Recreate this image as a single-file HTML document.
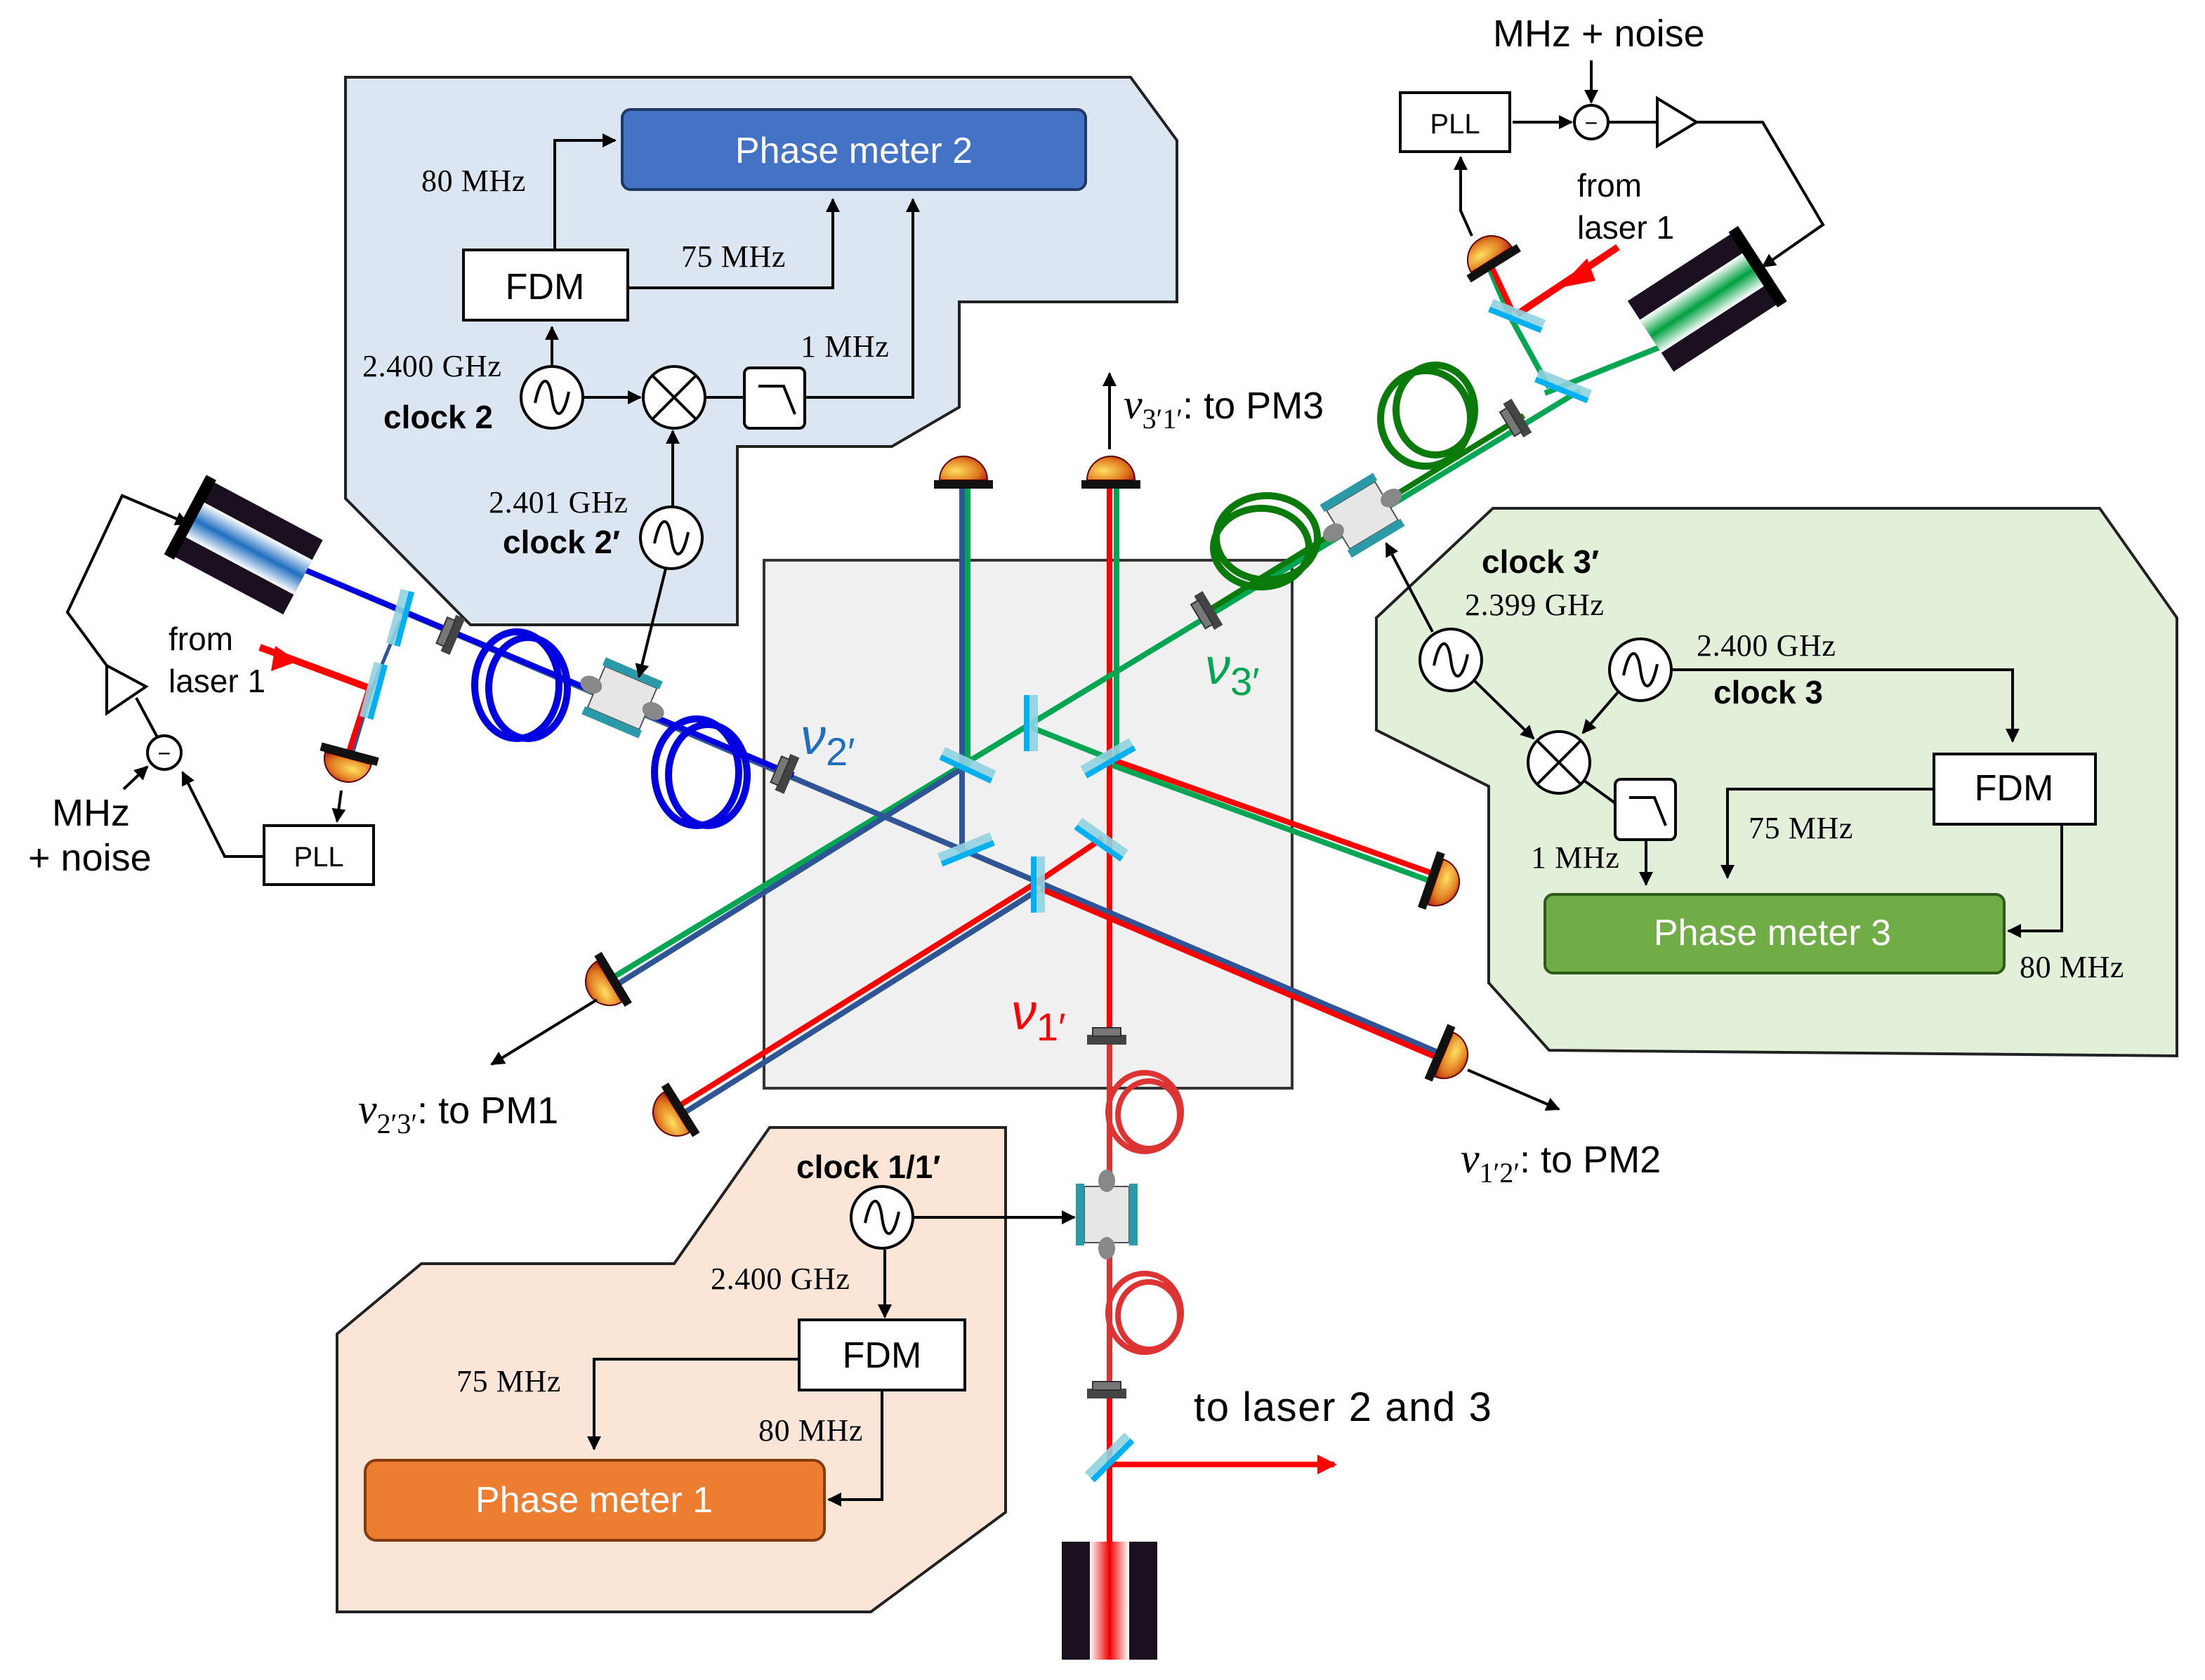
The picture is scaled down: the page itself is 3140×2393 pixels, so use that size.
<!DOCTYPE html>
<html><head><meta charset="utf-8"><style>
html,body{margin:0;padding:0;background:#fff;}
svg{display:block;}
text{font-family:"Liberation Sans",sans-serif;}
.s{font-family:"Liberation Serif",serif;}
</style></head><body>
<svg width="3140" height="2393" viewBox="0 0 1570 1196.5" xmlns="http://www.w3.org/2000/svg">
<defs>
<radialGradient id="dg" cx="0.35" cy="0.6" r="0.8"><stop offset="0" stop-color="#ffe060"/><stop offset="0.6" stop-color="#e07a20"/><stop offset="1" stop-color="#a01010"/></radialGradient>
<linearGradient id="bg1" x1="0" y1="0" x2="0" y2="1"><stop offset="0" stop-color="#fff"/><stop offset="0.5" stop-color="#1e6fc0"/><stop offset="1" stop-color="#fff"/></linearGradient>
<linearGradient id="gg1" x1="0" y1="0" x2="0" y2="1"><stop offset="0" stop-color="#fff"/><stop offset="0.5" stop-color="#00a040"/><stop offset="1" stop-color="#fff"/></linearGradient>
<linearGradient id="rg1" x1="0" y1="0" x2="1" y2="0"><stop offset="0" stop-color="#fff"/><stop offset="0.5" stop-color="#e00"/><stop offset="1" stop-color="#fff"/></linearGradient>
<g id="det"><path d="M-17,0 A17,17 0 0 1 17,0 Z" fill="url(#dg)" stroke="#600" stroke-width="1"/><rect x="-21" y="0" width="42" height="6" fill="#111"/></g>
<g id="bs"><rect x="-20" y="-5" width="40" height="10" fill="#8fd3e0" opacity="0.9"/><rect x="-20" y="1" width="40" height="4" fill="#00b0f0"/></g>
<g id="con"><rect x="-14" y="-3" width="28" height="7" fill="#444"/><rect x="-10" y="-8" width="20" height="6" fill="#777" stroke="#333" stroke-width="1"/></g>
<g id="eom"><rect x="-20" y="-16" width="40" height="32" fill="#e6e6e6" stroke="#555"/><rect x="-22" y="-22" width="44" height="6" fill="#2a9aa8"/><rect x="-22" y="16" width="44" height="6" fill="#2a9aa8"/><ellipse cx="-24" cy="0" rx="8" ry="6" fill="#888"/><ellipse cx="24" cy="0" rx="8" ry="6" fill="#888"/></g>
<marker id="ar" markerWidth="10" markerHeight="10" refX="9" refY="5" orient="auto" markerUnits="userSpaceOnUse"><path d="M0,0 L10,5 L0,10 Z" fill="#000"/></marker>
<marker id="arr" markerWidth="14" markerHeight="14" refX="12" refY="7" orient="auto" markerUnits="userSpaceOnUse"><path d="M0,0 L14,7 L0,14 Z" fill="#f00"/></marker>
</defs>

<!-- panels -->
<polygon points="246,55 805,55 838,100 838,215 683,215 683,290 635,318 525,318 525,445 335,445 246,355" fill="#dce6f2" stroke="#222" stroke-width="2"/>
<polygon points="980,440 1063,362 1495,362 1550,440 1550,752 1103,748 1060,700 1060,560 980,520" fill="#e2efd9" stroke="#222" stroke-width="2"/>
<polygon points="548,803 716,803 716,1077 620,1148 240,1148 240,950 300,900 480,900" fill="#fbe5d6" stroke="#222" stroke-width="2"/>
<rect x="544" y="399" width="376" height="376" fill="#f0f0f0" stroke="#333" stroke-width="2"/>

<!-- beams -->
<g stroke-width="4" fill="none">
<line x1="790" y1="345" x2="790" y2="1180" stroke="#f00"/>
<line x1="795" y1="345" x2="795" y2="542" stroke="#00a651"/>
<line x1="689" y1="345" x2="689" y2="546" stroke="#00a651"/>
<line x1="685" y1="345" x2="685" y2="608" stroke="#2f5597"/>
<line x1="1125" y1="278" x2="430" y2="700" stroke="#00a651"/>
<line x1="684" y1="548" x2="430" y2="707" stroke="#2f5597"/>
<line x1="215" y1="405" x2="1025" y2="750" stroke="#2f5597"/>
<line x1="741" y1="633" x2="1025" y2="754" stroke="#f00"/>
<line x1="739" y1="628" x2="478" y2="791" stroke="#f00"/>
<line x1="739" y1="634" x2="480" y2="797" stroke="#2f5597"/>
<line x1="785" y1="597" x2="736" y2="630" stroke="#f00"/>
<line x1="734" y1="518" x2="792" y2="541" stroke="#00a651"/>
<line x1="792" y1="541" x2="1020" y2="622" stroke="#f00"/>
<line x1="792" y1="545" x2="1020" y2="628" stroke="#00a651"/>
<line x1="790" y1="1043" x2="950" y2="1043" stroke="#f00" marker-end="url(#arr)"/>
<line x1="1200" y1="240" x2="1100" y2="280" stroke="#00a651"/>
<line x1="1103" y1="276" x2="1075" y2="225" stroke="#00a651"/>
<line x1="1075" y1="225" x2="1060" y2="190" stroke="#00a651"/>
<line x1="1077" y1="222" x2="1062" y2="190" stroke="#f00"/>
<line x1="1080" y1="224" x2="1152" y2="176" stroke="#f00" stroke-width="5"/>
<line x1="285" y1="442" x2="265" y2="490" stroke="#2f5597" stroke-width="2.5"/>
<line x1="265" y1="490" x2="250" y2="540" stroke="#2f5597" stroke-width="2.5"/>
<line x1="263" y1="490" x2="247" y2="540" stroke="#f00"/>
<line x1="263" y1="490" x2="185" y2="461" stroke="#f00" stroke-width="5"/>
</g>
<path d="M1110,205 L1130,184 L1136,200 Z" fill="#f00"/>
<path d="M212,471 L196,460 L193,478 Z" fill="#f00"/>

<!-- fibers -->
<g fill="none">
<line x1="215" y1="405" x2="565" y2="552" stroke="#0000e0" stroke-width="4"/>
<line x1="860" y1="435" x2="1085" y2="296" stroke="#0a7a0a" stroke-width="4"/>
<line x1="790" y1="740" x2="790" y2="995" stroke="#d33" stroke-width="4"/>
<g stroke="#0000e0" stroke-width="5"><ellipse cx="368" cy="488" rx="30" ry="38"/><ellipse cx="376" cy="490" rx="28" ry="36"/><ellipse cx="496" cy="550" rx="30" ry="38"/><ellipse cx="504" cy="552" rx="28" ry="36"/></g>
<g stroke="#0a7a0a" stroke-width="5"><ellipse cx="902" cy="383" rx="36" ry="30"/><ellipse cx="898" cy="390" rx="34" ry="28"/><ellipse cx="1015" cy="298" rx="32" ry="34"/><ellipse cx="1022" cy="292" rx="28" ry="32"/></g>
<g stroke="#d33" stroke-width="4"><ellipse cx="815" cy="792" rx="26" ry="28"/><ellipse cx="818" cy="794" rx="22" ry="24"/><ellipse cx="815" cy="935" rx="26" ry="28"/><ellipse cx="818" cy="937" rx="22" ry="24"/></g>
</g>
<use href="#eom" transform="translate(443,497) rotate(23)"/>
<use href="#eom" transform="translate(970,367) rotate(-31)"/>
<use href="#eom" transform="translate(788,865) rotate(90)"/>
<use href="#con" transform="translate(322,452) rotate(-67)"/>
<use href="#con" transform="translate(560,551) rotate(-67)"/>
<use href="#con" transform="translate(860,435) rotate(-121)"/>
<use href="#con" transform="translate(1080,298) rotate(-121)"/>
<use href="#con" transform="translate(788,740)"/>
<use href="#con" transform="translate(788,992)"/>

<!-- beamsplitters -->
<use href="#bs" transform="translate(734,515) rotate(90)"/>
<use href="#bs" transform="translate(689,545) rotate(25)"/>
<use href="#bs" transform="translate(789,540) rotate(-30)"/>
<use href="#bs" transform="translate(688,605) rotate(-22)"/>
<use href="#bs" transform="translate(784,598) rotate(35)"/>
<use href="#bs" transform="translate(739,630) rotate(90)"/>
<use href="#bs" transform="translate(790,1038) rotate(-45)"/>
<use href="#bs" transform="translate(1080,225) rotate(22)"/>
<use href="#bs" transform="translate(1113,275) rotate(22)"/>
<use href="#bs" transform="translate(285,440) rotate(-75)"/>
<use href="#bs" transform="translate(266,492) rotate(-75)"/>

<!-- detectors -->
<use href="#det" transform="translate(686,342)"/>
<use href="#det" transform="translate(791,342)"/>
<use href="#det" transform="translate(1022,628) rotate(109)"/>
<use href="#det" transform="translate(1028,751) rotate(113)"/>
<use href="#det" transform="translate(434,699) rotate(-121)"/>
<use href="#det" transform="translate(482,792) rotate(-122)"/>
<use href="#det" transform="translate(248,540) rotate(195)"/>
<use href="#det" transform="translate(1062,185) rotate(-32)"/>

<!-- lasers -->
<g transform="translate(790,1140)"><rect x="-34" y="-42" width="68" height="84" fill="#1a1020"/><rect x="-14" y="-42" width="28" height="84" fill="url(#rg1)"/></g>
<g transform="translate(176,390) rotate(28)"><rect x="-45" y="-30" width="90" height="60" fill="#1a1020"/><rect x="-45" y="-14" width="90" height="28" fill="url(#bg1)"/><rect x="-50" y="-32" width="8" height="64" fill="#000"/></g>
<g transform="translate(1213,215) rotate(-33)"><rect x="-45" y="-30" width="90" height="60" fill="#1a1020"/><rect x="-45" y="-14" width="90" height="28" fill="url(#gg1)"/><rect x="42" y="-32" width="8" height="64" fill="#000"/></g>

<!-- control lines -->
<g stroke="#000" stroke-width="2" fill="none">
<polyline points="395,178 395,100 438,100" marker-end="url(#ar)"/>
<polyline points="447,205 593,205 593,142" marker-end="url(#ar)"/>
<polyline points="573,283 650,283 650,142" marker-end="url(#ar)"/>
<line x1="393" y1="261" x2="393" y2="233" marker-end="url(#ar)"/>
<line x1="415" y1="283" x2="456" y2="283" marker-end="url(#ar)"/>
<line x1="502" y1="283" x2="530" y2="283"/>
<line x1="479" y1="361" x2="479" y2="307" marker-end="url(#ar)"/>
<line x1="474" y1="405" x2="455" y2="482" marker-end="url(#ar)"/>
<polyline points="1190,477 1433,477 1433,528" marker-end="url(#ar)"/>
<polyline points="1377,562 1230,562 1230,625" marker-end="url(#ar)"/>
<polyline points="1468,587 1468,663 1430,663" marker-end="url(#ar)"/>
<line x1="1172" y1="598" x2="1172" y2="630" marker-end="url(#ar)"/>
<line x1="1050" y1="485" x2="1092" y2="526" marker-end="url(#ar)"/>
<line x1="1152" y1="493" x2="1127" y2="522" marker-end="url(#ar)"/>
<line x1="1128" y1="556" x2="1150" y2="572"/>
<line x1="1020" y1="450" x2="987" y2="387" marker-end="url(#ar)"/>
<line x1="650" y1="867" x2="765" y2="867" marker-end="url(#ar)"/>
<line x1="630" y1="890" x2="630" y2="938" marker-end="url(#ar)"/>
<polyline points="569,968 423,968 423,1032" marker-end="url(#ar)"/>
<polyline points="628,990 628,1068 590,1068" marker-end="url(#ar)"/>
<line x1="1133" y1="43" x2="1133" y2="73" marker-end="url(#ar)"/>
<line x1="1077" y1="87" x2="1119" y2="87" marker-end="url(#ar)"/>
<line x1="1145" y1="87" x2="1180" y2="87"/>
<polyline points="1208,87 1255,87 1298,160 1255,190" marker-end="url(#ar)"/>
<polyline points="1048,168 1040,150 1040,112" marker-end="url(#ar)"/>
<!-- left loop -->
<line x1="112" y1="525" x2="97" y2="497"/>
<polyline points="76,474 48,436 87,353 134,373" marker-end="url(#ar)"/>
<line x1="88" y1="562" x2="105" y2="546" marker-end="url(#ar)"/>
<polyline points="188,610 160,610 130,550" marker-end="url(#ar)"/>
<line x1="243" y1="563" x2="240" y2="585" marker-end="url(#ar)"/>
<line x1="790" y1="320" x2="790" y2="266" marker-end="url(#ar)"/>
<line x1="425" y1="712" x2="350" y2="758" marker-end="url(#ar)"/>
<line x1="1045" y1="762" x2="1110" y2="790" marker-end="url(#ar)"/>
</g>
<polygon points="1180,70 1180,104 1208,87" fill="#fff" stroke="#000" stroke-width="2"/>
<polygon points="76,474 104,489 76,508" fill="#fff" stroke="#000" stroke-width="2"/>
<circle cx="1133" cy="87" r="12" fill="#fff" stroke="#000" stroke-width="2"/><text x="1133" y="93" font-size="16" text-anchor="middle">−</text>
<circle cx="117" cy="536" r="12" fill="#fff" stroke="#000" stroke-width="2"/><text x="117" y="542" font-size="16" text-anchor="middle">−</text>
<rect x="997" y="66" width="78" height="42" fill="#fff" stroke="#000" stroke-width="2"/><text x="1036" y="95" font-size="20" text-anchor="middle">PLL</text>
<rect x="188" y="588" width="78" height="42" fill="#fff" stroke="#000" stroke-width="2"/><text x="227" y="617" font-size="20" text-anchor="middle">PLL</text>

<!-- boxes -->
<rect x="443" y="78" width="330" height="57" rx="6" fill="#4472c4" stroke="#1f3864" stroke-width="2"/><text x="608" y="116" font-size="26" fill="#fff" text-anchor="middle">Phase meter 2</text>
<rect x="1100" y="637" width="327" height="56" rx="6" fill="#70ad47" stroke="#2e5a1a" stroke-width="2"/><text x="1262" y="673" font-size="26" fill="#fff" text-anchor="middle">Phase meter 3</text>
<rect x="260" y="1040" width="327" height="57" rx="8" fill="#ed7d31" stroke="#843c0c" stroke-width="2"/><text x="423" y="1077" font-size="26" fill="#fff" text-anchor="middle">Phase meter 1</text>
<g fill="#fff" stroke="#000" stroke-width="2">
<rect x="330" y="178" width="117" height="50"/><rect x="1377" y="537" width="115" height="50"/><rect x="569" y="940" width="118" height="50"/>
<rect x="530" y="262" width="43" height="43" rx="4"/><rect x="1150" y="555" width="43" height="43" rx="4"/>
<circle cx="393" cy="283" r="22"/><circle cx="478" cy="383" r="22"/><circle cx="1033" cy="470" r="22"/><circle cx="1168" cy="477" r="22"/><circle cx="628" cy="867" r="22"/>
<circle cx="480" cy="283" r="22"/><circle cx="1110" cy="543" r="22"/>
</g>
<g stroke="#000" stroke-width="2" fill="none">
<path d="M464,267 L496,299 M496,267 L464,299"/><path d="M1094,527 L1126,559 M1126,527 L1094,559"/>
<path d="M540,275 L558,275 L566,295"/><path d="M1160,568 L1178,568 L1186,588"/>
<path transform="translate(393,283)" d="M-12,4 C-8,-16 -2,-16 0,0 C2,16 8,16 12,-4"/>
<path transform="translate(478,383)" d="M-12,4 C-8,-16 -2,-16 0,0 C2,16 8,16 12,-4"/>
<path transform="translate(1033,470)" d="M-12,4 C-8,-16 -2,-16 0,0 C2,16 8,16 12,-4"/>
<path transform="translate(1168,477)" d="M-12,4 C-8,-16 -2,-16 0,0 C2,16 8,16 12,-4"/>
<path transform="translate(628,867)" d="M-12,4 C-8,-16 -2,-16 0,0 C2,16 8,16 12,-4"/>
</g>
<g font-size="26" text-anchor="middle"><text x="388" y="213">FDM</text><text x="1434" y="570">FDM</text><text x="628" y="974">FDM</text></g>

<!-- labels -->
<g font-size="22" class="s" letter-spacing="0.3">
<text x="300" y="136" class="s">80 MHz</text>
<text x="485" y="190" class="s">75 MHz</text>
<text x="570" y="254" class="s">1 MHz</text>
<text x="258" y="268" class="s">2.400 GHz</text>
<text x="348" y="365" class="s">2.401 GHz</text>
<text x="1043" y="438" class="s">2.399 GHz</text>
<text x="1208" y="467" class="s">2.400 GHz</text>
<text x="1245" y="597" class="s">75 MHz</text>
<text x="1090" y="618" class="s">1 MHz</text>
<text x="1438" y="696" class="s">80 MHz</text>
<text x="506" y="918" class="s">2.400 GHz</text>
<text x="325" y="991" class="s">75 MHz</text>
<text x="540" y="1026" class="s">80 MHz</text>
</g>
<g font-size="23">
<text x="1123" y="140">from</text><text x="1123" y="170">laser 1</text>
<text x="120" y="463">from</text><text x="120" y="493">laser 1</text>
</g>
<g font-size="23" font-weight="bold">
<text x="273" y="305">clock 2</text>
<text x="358" y="394">clock 2′</text>
<text x="1055" y="408">clock 3′</text>
<text x="1220" y="501">clock 3</text>
<text x="567" y="839">clock 1/1′</text>
</g>
<g font-size="27">
<text x="1063" y="33">MHz + noise</text>
<text x="37" y="588">MHz</text><text x="20" y="620">+ noise</text>
<text x="850" y="1012" font-size="29" letter-spacing="0.8">to laser 2 and 3</text>
<text x="800" y="298"><tspan class="s" font-style="italic" font-size="30">ν</tspan><tspan class="s" font-size="20" dy="7">3′1′</tspan><tspan dy="-7">: to PM3</tspan></text>
<text x="255" y="800"><tspan class="s" font-style="italic" font-size="30">ν</tspan><tspan class="s" font-size="20" dy="7">2′3′</tspan><tspan dy="-7">: to PM1</tspan></text>
<text x="1040" y="835"><tspan class="s" font-style="italic" font-size="30">ν</tspan><tspan class="s" font-size="20" dy="7">1′2′</tspan><tspan dy="-7">: to PM2</tspan></text>
</g>
<g font-size="36" class="s" font-style="italic">
<text x="570" y="537" fill="#1f6fc0">ν<tspan font-size="28" font-style="normal" dy="8">2′</tspan></text>
<text x="858" y="487" fill="#00a651">ν<tspan font-size="28" font-style="normal" dy="8">3′</tspan></text>
<text x="720" y="733" fill="#f00">ν<tspan font-size="28" font-style="normal" dy="8">1′</tspan></text>
</g>
</svg>
</body></html>
